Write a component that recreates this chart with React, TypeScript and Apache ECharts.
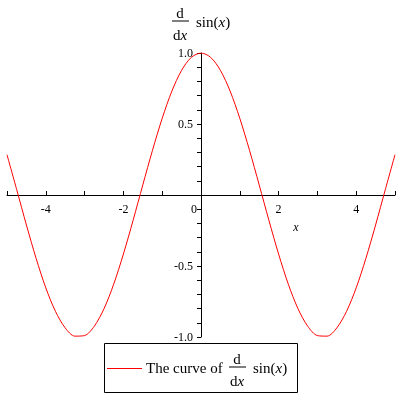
import React, { useEffect, useRef } from "react";
import * as echarts from "echarts";

const xValues = [
  -5, -4.75, -4.5, -4.25, -4, -3.75, -3.5, -3.25, -3, -2.75, -2.5, -2.25, -2, -1.75, -1.5, -1.25, -1, -0.75, -0.5, -0.25,
  0, 0.25, 0.5, 0.75, 1, 1.25, 1.5, 1.75, 2, 2.25, 2.5, 2.75, 3, 3.25, 3.5, 3.75, 4, 4.25, 4.5, 4.75, 5,
];
const yValues = [
  0.284, 0.038, -0.211, -0.446, -0.654, -0.82, -0.936, -0.994, -0.99, -0.924, -0.801, -0.628, -0.416, -0.178, 0.071, 0.315, 0.54, 0.732, 0.878, 0.969,
  1.0, 0.969, 0.878, 0.732, 0.54, 0.315, 0.071, -0.178, -0.416, -0.628, -0.801, -0.924, -0.99, -0.994, -0.936, -0.82, -0.654, -0.446, -0.211, 0.038, 0.284,
];
const xLabelValues = [-4, -2, 2, 4];
const yLabelValues = [-1, -0.5, 0.5, 1];
const seriesName = "The curve of d/dx sin(x)";

const FONT = "Liberation Serif, Times New Roman, serif";

export default function App() {
  const ref = useRef<HTMLDivElement>(null);
  useEffect(() => {
    if (!ref.current) return;
    const chart = echarts.init(ref.current, null, { renderer: "svg" });
    const near = (v: number, list: number[]) => list.some((t) => Math.abs(t - v) < 1e-6);
    const sinRich = {
      a: { fontFamily: FONT, fontSize: 15, fill: "#000" },
      i: { fontFamily: FONT, fontSize: 15, fontStyle: "italic", fill: "#000" },
    };
    const frac = (cx: number, cy: number) => [
      { type: "text", x: cx, y: cy - 8, style: { text: "d", font: `15px ${FONT}`, fill: "#000", align: "center", verticalAlign: "middle" } },
      { type: "line", shape: { x1: cx - 8, y1: cy, x2: cx + 9, y2: cy }, style: { stroke: "#000", lineWidth: 1 } },
      {
        type: "text", x: cx, y: cy + 14,
        style: { text: "{a|d}{i|x}", rich: sinRich, align: "center", verticalAlign: "middle" },
      },
    ];
    const sinText = (x: number, y: number) => ({
      type: "text", x, y,
      style: { text: "{a|sin(}{i|x}{a|)}", rich: sinRich, align: "left", verticalAlign: "middle" },
    });
    chart.setOption({
      animation: false,
      grid: { left: 7, right: 5, top: 53, bottom: 63, containLabel: false, outerBoundsMode: "none" },
      xAxis: {
        type: "value",
        min: -5,
        max: 5,
        interval: 1,
        position: "bottom",
        offset: -142,
        axisLine: { onZero: false, lineStyle: { color: "#000", width: 1 } },
        axisTick: { show: true, inside: true, length: 4, lineStyle: { color: "#000" } },
        axisLabel: {
          color: "#000",
          fontFamily: FONT,
          fontSize: 12,
          margin: 8,
          showMinLabel: true,
          showMaxLabel: true,
          formatter: (v: number) => (near(v, xLabelValues) ? String(v) : ""),
        },
        splitLine: { show: false },
      },
      yAxis: {
        type: "value",
        min: -1,
        max: 1,
        interval: 0.1,
        position: "left",
        offset: -194,
        axisLine: { onZero: false, lineStyle: { color: "#000", width: 1 } },
        axisTick: { show: true, inside: false, length: 4, lineStyle: { color: "#000" } },
        axisLabel: {
          color: "#000",
          fontFamily: FONT,
          fontSize: 12,
          margin: 8,
          formatter: (v: number) => (near(v, yLabelValues) ? v.toFixed(1) : ""),
        },
        splitLine: { show: false },
      },
      series: [
        {
          name: seriesName,
          type: "line",
          data: xValues.map((x, i) => [x, yValues[i]]),
          smooth: 0.3,
          showSymbol: false,
          lineStyle: { color: "#ff0000", width: 1 },
          itemStyle: { color: "#ff0000" },
        },
      ],
      graphic: [
        ...frac(180, 21),
        sinText(196, 22),
        { type: "text", x: 194, y: 209, style: { text: "0", font: `12px ${FONT}`, fill: "#000", align: "center", verticalAlign: "middle" } },
        { type: "text", x: 296, y: 227, style: { text: "x", font: `italic 12px ${FONT}`, fill: "#000", align: "center", verticalAlign: "middle" } },
        { type: "rect", shape: { x: 104.5, y: 343.5, width: 193, height: 49 }, style: { fill: "#fff", stroke: "#000", lineWidth: 1 } },
        { type: "line", shape: { x1: 107, y1: 368.5, x2: 142, y2: 368.5 }, style: { stroke: "#ff0000", lineWidth: 1 } },
        { type: "text", x: 146, y: 368, style: { text: "The curve of", font: `15px ${FONT}`, fill: "#000", align: "left", verticalAlign: "middle" } },
        ...frac(237, 367),
        sinText(253, 368),
      ],
    });
    return () => chart.dispose();
  }, []);
  return <div ref={ref} style={{ position: "fixed", left: 0, top: 0, width: 400, height: 400 }} />;
}
